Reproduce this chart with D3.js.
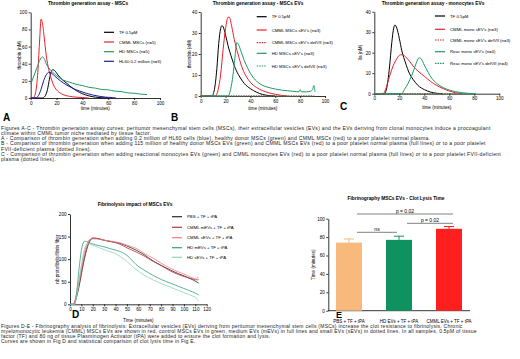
<!DOCTYPE html>
<html>
<head>
<meta charset="utf-8">
<script src="https://cdn.jsdelivr.net/npm/d3@7"></script>
<style>
  body { margin: 0; background: #fff; }
  svg { display: block; font-family: "Liberation Sans", Arial, sans-serif; }
</style>
</head>
<body>
<svg id="fig" width="520" height="359"></svg>
<script>
// ---- Panel A : thrombin generation, MSCs ([time, nM])
const aTF    = [[0,0],[9,0],[11,2],[13,10],[14.5,22],[16,31],[17,33],[18.5,32],[21,27],[24,22],[28,17],[32,12],[36,8],[40,5],[45,2.5],[50,1],[55,0.3],[60,0]];
const aCMML  = [[0,0],[2,0],[4,8],[5.5,30],[7,70],[8,92],[9,88],[10.5,70],[12,50],[14,33],[16,22],[18,14],[21,8],[25,4],[30,2],[35,1],[40,0.5],[45,0]];
const aHD    = [[0,16],[1.5,22],[3,28],[5,36],[7,44],[9,48],[10.5,46],[12,40],[14,35],[17,30],[20,26],[25,21],[30,18.5],[35,16],[40,14.5],[45,12.5],[50,11.5],[55,10],[60,9.5],[65,8],[70,7.5],[75,6],[80,5.5],[85,4.5],[90,4]];
const aHL60  = [[0,0],[4,0],[6,3],[8,10],[10,20],[12,27],[14,30],[16,29],[19,25],[23,20],[28,15],[33,11],[38,8],[43,5.5],[48,3.5],[53,2],[58,1],[63,0.5],[66,0]];
const aNames = ["TF 0.5pM", "CMML MSCs (n=5)", "HD MSCs (n=5)", "HL60 0.2 million (n=3)"];

// ---- Panel B : thrombin generation, MSCs EVs
const bTF      = [[0,0],[9,0],[11,3],[13,13],[14.5,25],[16,32],[17,33.5],[18,33],[20,29],[22,24],[25,18],[28,13],[31,9.5],[35,6],[40,3.5],[45,1.8],[50,0.7],[55,0.2],[60,0]];
const bCMML    = [[0,0],[12,0],[14,3],[16,10],[18,22],[20,32],[22,37.5],[23,37.5],[25,33],[27,27],[30,20],[33,14],[36,10],[40,6.5],[45,4],[50,2.5],[55,1.5],[60,0.8],[65,0.3],[70,0]];
const bCMMLdef = [[0,0],[90,0]];
const bHD      = [[0,0],[22,0],[24,3],[26,10],[27.5,18],[29,25.5],[30,25],[32,22],[35,17],[38,13],[42,9],[46,6.5],[50,5],[55,4],[60,3.3],[65,2.8],[70,2.5],[75,2.2],[79,2],[80,3],[81,2],[85,2],[88,2.2],[90,3],[91,5],[92,2]];
const bHDdef   = [[0,0],[92,0]];
const bNames   = ["TF 0.5pM", "CMML MSCs sEV's (n=3)", "CMML MSCs sEV's defVII (n=3)", "HD MSCs sEV's (n=3)", "HD MSCs sEV's defVII (n=3)"];

// ---- Panel C : thrombin generation, monocytes EVs
const cTF      = [[0,0],[8,0],[10,3],[12,12],[14,25],[15.5,32],[16.5,33.5],[18,32],[20,27],[22,21],[25,15],[28,10],[31,7],[35,4],[40,2],[45,0.8],[50,0.2],[55,0]];
const cCMML    = [[0,0],[7,0],[9,2],[11,6],[13,10],[15,13.5],[17,16],[19,18],[21,19],[23,19],[25,18],[28,16],[31,13.5],[35,11],[40,8.5],[45,6],[50,4],[55,2.5],[60,1.3],[65,0.5],[70,0]];
const cCMMLdef = [[0,0],[75,0]];
const cReac    = [[0,0],[22,0],[24,2],[27,5],[30,9],[33,14],[35,17],[36,17.5],[37.5,17],[40,14],[43,10.5],[46,7.5],[50,5],[55,3],[60,1.8],[65,1],[70,0.5],[75,0.2],[80,0]];
const cReacdef = [[0,0],[82,0]];
const cNames   = ["TF 0.5pM", "CMML mono sEV's (n=3)", "CMML mono sEV's defVII (n=3)", "Reac mono sEV's (n=4)", "Reac mono sEV's defVII (n=4)"];

// ---- Panel D : fibrinolysis
const dPBS    = [[0,0],[3,0],[5,10],[8,40],[11,80],[14,115],[17,138],[20,146],[23,146],[28,143],[35,139],[44,135],[50,129],[58,120],[65,110],[73,96],[80,86],[88,76],[95,68],[102,61],[108,54],[113,47]];
const dCMMLm  = [[0,0],[3,0],[5,12],[8,45],[11,85],[14,120],[17,140],[20,147],[24,146],[30,142],[38,138],[44,133],[50,125],[58,116],[65,107],[73,95],[80,86],[88,74],[95,66],[102,60],[108,56],[112,54],[113,55]];
const dCMMLs  = [[0,0],[3,0],[5,15],[8,55],[11,95],[14,128],[17,143],[19,145],[23,145],[30,142],[38,139],[44,136],[50,131],[58,124],[65,113],[73,102],[80,91],[88,80],[95,72],[102,65],[108,58],[111,56],[112,60],[113,58]];
const dHDm    = [[0,0],[4,0],[6,30],[8,80],[10,120],[12,138],[13,140],[16,137],[22,132],[29,128],[37,122],[44,117],[48,112],[52,104],[58,88],[65,76],[73,64],[80,55],[88,47],[95,40],[102,33],[108,27],[112,22],[113,20]];
const dHDs    = [[0,0],[4,0],[6,20],[9,70],[12,115],[14,130],[16,134],[20,131],[25,126],[32,119],[40,112],[44,106],[48,99],[53,88],[58,77],[65,65],[73,54],[80,46],[88,38],[95,31],[102,24],[108,18],[111,14],[112,10],[113,8]];
const dNames  = ["PBS + TF + tPA", "CMML mEVs + TF + tPA", "CMML sEVs + TF + tPA", "HD mEVs + TF + tPA", "HD sEVs + TF + tPA"];

// ---- Panel E : clot lysis time
const eCats  = ["PBS + TF + tPA", "HD EVs + TF + tPA", "CMML EVs + TF + tPA"];
const eMeans = [74, 77, 89];
const eErr   = [4, 4, 2.5];

// ---- captions
const capABC = [
  "Figures A-C - Thrombin generation assay curves: peritumor mesenchymal stem cells (MSCs), their extracellular vesicles (EVs) and the EVs deriving from clonal monocytes induce a procoagulant",
  "climate within CMML tumor niche mediated by tissue factor.",
  "A - Comparison of thrombin generation when adding 0.2 million of HL60 cells (blue), healthy donor MSCs (green) and CMML MSCs (red) to a poor platelet normal plasma.",
  "B - Comparison of thrombin generation when adding 115 million of healthy donor MSCs EVs (green) and CMML MSCs EVs (red) to a poor platelet normal plasma (full lines) or to a poor platelet",
  "FVII-deficient plasma (dotted lines).",
  "C - Comparison of thrombin generation when adding reactional monocytes EVs (green) and CMML monocytes EVs (red) to a poor platelet normal plasma (full lines) or to a poor platelet FVII-deficient",
  "plasma (dotted lines)."
];
const capDE = [
  "Figures D-E - Fibrinography analysis of fibrinolysis: Extracellular vesicles (EVs) deriving from peritumor mesenchymal stem cells (MSCs) increase the clot resistance to fibrinolysis. Chronic",
  "myelomonocytic leukemia (CMML) MSCs EVs are shown in red, control MSCs EVs in green, medium EVs (mEVs) in full lines and small EVs (sEVs) in dotted lines. In all samples, 0.5pM of tissue",
  "factor (TF) and 80 ng of tissue Plasminogen Activator (tPA) were added to ensure the clot formation and lysis.",
  "Curves are shown in Fig D and statistical comparison of clot lysis time in Fig E."
];

const svg = d3.select("#fig");

function axisStyle(g) {
  g.selectAll("path, line").attr("stroke", "#000").attr("stroke-width", 0.8);
  g.selectAll("text").attr("font-size", "4.6px").attr("fill", "#000");
}

// generic line panel
function linePanel(cfg) {
  const x = d3.scaleLinear().domain(cfg.xDomain).range(cfg.xRange);
  const y = d3.scaleLinear().domain(cfg.yDomain).range(cfg.yRange);
  const g = svg.append("g");

  g.append("g")
    .attr("transform", `translate(0,${cfg.yRange[0]})`)
    .call(d3.axisBottom(x).tickValues(cfg.xTicks).tickSize(2).tickPadding(1.5).tickSizeOuter(0))
    .call(axisStyle);
  g.append("g")
    .attr("transform", `translate(${cfg.xRange[0]},0)`)
    .call(d3.axisLeft(y).tickValues(cfg.yTicks).tickSize(2).tickPadding(1.5).tickSizeOuter(0))
    .call(axisStyle);

  const line = d3.line().x(d => x(d[0])).y(d => y(d[1])).curve(d3.curveMonotoneX);
  cfg.series.forEach(s => {
    g.append("path")
      .attr("d", line(s.data))
      .attr("fill", "none")
      .attr("stroke", s.color)
      .attr("stroke-width", s.width || 1)
      .attr("stroke-dasharray", s.dash || null);
  });

  // title and axis labels
  g.append("text").attr("x", cfg.titleX).attr("y", cfg.titleY)
    .attr("text-anchor", "middle").attr("font-size", "4.8px").attr("font-weight", "bold")
    .text(cfg.title);
  g.append("text").attr("x", (cfg.xRange[0] + cfg.xRange[1]) / 2).attr("y", cfg.xLabelY)
    .attr("text-anchor", "middle").attr("font-size", "4.6px").text(cfg.xLabel);
  g.append("text")
    .attr("transform", `translate(${cfg.yLabelX},${(cfg.yRange[0] + cfg.yRange[1]) / 2}) rotate(-90)`)
    .attr("text-anchor", "middle").attr("font-size", "4.6px").text(cfg.yLabel);

  // legend
  cfg.series.forEach((s, i) => {
    const ly = cfg.legY[i];
    g.append("line").attr("x1", cfg.legX).attr("x2", cfg.legX + 10).attr("y1", ly).attr("y2", ly)
      .attr("stroke", s.color).attr("stroke-width", 1.2).attr("stroke-dasharray", s.dash || null);
    g.append("text").attr("x", cfg.legX + 15).attr("y", ly + 1.5)
      .attr("font-size", "4.3px").text(cfg.names[i]);
  });

  // panel letter
  g.append("text").attr("x", cfg.letterX).attr("y", cfg.letterY)
    .attr("font-size", "10px").attr("font-weight", "bold").text(cfg.letter);
}

const RED = "#e8202a", GREEN = "#1f9a66", BLACK = "#000";

linePanel({
  xDomain: [0, 100], xRange: [30.7, 160], yDomain: [0, 100], yRange: [98, 12.3],
  xTicks: [0, 20, 40, 60, 80, 100], yTicks: [0, 20, 40, 60, 80, 100],
  title: "Thrombin generation assay - MSCs", titleX: 88, titleY: 5,
  xLabel: "time (minutes)", xLabelY: 110, yLabel: "thrombin (nM)", yLabelX: 21,
  series: [
    { data: aTF, color: BLACK },
    { data: aCMML, color: RED },
    { data: aHD, color: GREEN },
    { data: aHL60, color: "#1a1a9c" }
  ],
  names: aNames, legX: 104, legY: [32.3, 42, 51.7, 61.3],
  letter: "A", letterX: 3, letterY: 121
});

linePanel({
  xDomain: [0, 100], xRange: [200.7, 325], yDomain: [0, 40], yRange: [96, 12],
  xTicks: [0, 20, 40, 60, 80, 100], yTicks: [0, 10, 20, 30, 40],
  title: "Thrombin generation assay - MSCs EVs", titleX: 258, titleY: 5,
  xLabel: "time (minutes)", xLabelY: 110, yLabel: "thrombin (nM)", yLabelX: 191,
  series: [
    { data: bTF, color: BLACK },
    { data: bCMML, color: RED },
    { data: bCMMLdef, color: RED, dash: "1.5,1" },
    { data: bHD, color: GREEN },
    { data: bHDdef, color: GREEN, dash: "1.5,1" }
  ],
  names: bNames, legX: 256.7, legY: [16.7, 30, 42.7, 53.3, 66],
  letter: "B", letterX: 171, letterY: 121
});

linePanel({
  xDomain: [0, 100], xRange: [374.3, 499.3], yDomain: [0, 40], yRange: [93.7, 11.7],
  xTicks: [0, 20, 40, 60, 80, 100], yTicks: [0, 10, 20, 30, 40],
  title: "Thrombin generation assay - monocytes EVs", titleX: 433, titleY: 5,
  xLabel: "time (minutes)", xLabelY: 109, yLabel: "IIa (nM)", yLabelX: 362,
  series: [
    { data: cTF, color: BLACK },
    { data: cCMML, color: RED },
    { data: cCMMLdef, color: RED, dash: "1.5,1" },
    { data: cReac, color: GREEN },
    { data: cReacdef, color: GREEN, dash: "1.5,1" }
  ],
  names: cNames, legX: 435, legY: [16, 29.3, 40, 51.7, 63.3],
  letter: "C", letterX: 340, letterY: 110
});

linePanel({
  xDomain: [0, 120], xRange: [70, 206.7], yDomain: [0, 200], yRange: [304.3, 214],
  xTicks: d3.range(0, 121, 10), yTicks: [0, 50, 100, 150, 200],
  title: "Fibrinolysis impact of MSCs EVs", titleX: 135, titleY: 206,
  xLabel: "Time (minutes)", xLabelY: 322, yLabel: "nb protofibrils/fibrin fiber", yLabelX: 59,
  series: [
    { data: dPBS, color: "#2a2a2a", width: 0.8 },
    { data: dCMMLm, color: "#b8343c", width: 0.8 },
    { data: dCMMLs, color: "#ec7f82", width: 0.8 },
    { data: dHDm, color: "#35a07e", width: 0.8 },
    { data: dHDs, color: "#90d2b6", width: 0.8 }
  ],
  names: dNames, legX: 172, legY: [216.7, 227.3, 237.7, 247.7, 257.3],
  letter: "D", letterX: 72, letterY: 318
});

// ---- Panel E : bar chart
(function () {
  const g = svg.append("g");
  const x = d3.scaleBand().domain(eCats).range([324, 474]).paddingInner(0.48).paddingOuter(0.24);
  const y = d3.scaleLinear().domain([0, 100]).range([310.7, 218.7]);
  const colors = ["#f7b97c", "#0f9160", "#ff1f1f"];

  g.append("g").attr("transform", "translate(328.3,0)")
    .call(d3.axisLeft(y).tickValues([0, 20, 40, 60, 80, 100]).tickSize(2).tickPadding(1.5).tickSizeOuter(0))
    .call(axisStyle);
  g.append("line").attr("x1", 328.3).attr("x2", 470).attr("y1", y(0)).attr("y2", y(0))
    .attr("stroke", "#000").attr("stroke-width", 0.8);

  eCats.forEach((c, i) => {
    const cx = x(c) + x.bandwidth() / 2;
    g.append("line").attr("x1", cx).attr("x2", cx).attr("y1", y(eMeans[i])).attr("y2", y(eMeans[i] + eErr[i]))
      .attr("stroke", colors[i]).attr("stroke-width", 1);
    g.append("line").attr("x1", cx - 5).attr("x2", cx + 5).attr("y1", y(eMeans[i] + eErr[i])).attr("y2", y(eMeans[i] + eErr[i]))
      .attr("stroke", colors[i]).attr("stroke-width", 1);
    g.append("rect").attr("x", x(c)).attr("y", y(eMeans[i])).attr("width", x.bandwidth())
      .attr("height", y(0) - y(eMeans[i])).attr("fill", colors[i]);
    g.append("text").attr("x", cx).attr("y", 322.5).attr("text-anchor", "middle")
      .attr("font-size", "4.5px").text(c);
  });

  // significance brackets
  const brackets = [
    { a: 0, b: 2, yy: 214, label: "p = 0.02" },
    { a: 1, b: 2, yy: 223.3, label: "p = 0.02" },
    { a: 0, b: 1, yy: 232.3, label: "ns" }
  ];
  brackets.forEach(br => {
    const x1 = x(eCats[br.a]) + x.bandwidth() / 2 + 8;
    const x2 = x(eCats[br.b]) + x.bandwidth() / 2 + (br.b === 2 ? 4 : -2);
    g.append("line").attr("x1", x1).attr("x2", x2).attr("y1", br.yy).attr("y2", br.yy)
      .attr("stroke", "#000").attr("stroke-width", 0.5);
    g.append("text").attr("x", (x1 + x2) / 2).attr("y", br.yy - 1.5).attr("text-anchor", "middle")
      .attr("font-size", "5px").text(br.label);
  });

  g.append("text").attr("x", 396).attr("y", 199.5).attr("text-anchor", "middle")
    .attr("font-size", "4.8px").attr("font-weight", "bold").text("Fibrinography MSCs EVs - Clot Lysis Time");
  g.append("text").attr("transform", "translate(315,264.7) rotate(-90)").attr("text-anchor", "middle")
    .attr("font-size", "4.6px").text("Time (minutes)");
  g.append("text").attr("x", 336).attr("y", 318).attr("font-size", "9px").attr("font-weight", "bold").text("E");
})();

// ---- captions
svg.append("g").selectAll("text").data(capABC).join("text")
  .attr("x", 1).attr("y", (d, i) => 129.5 + i * 5.25)
  .attr("font-size", "5.1px").attr("letter-spacing", "0.28px").attr("fill", "#222").text(d => d);
svg.append("g").selectAll("text").data(capDE).join("text")
  .attr("x", 1).attr("y", (d, i) => 328 + i * 5)
  .attr("font-size", "5px").attr("letter-spacing", "0.25px").attr("fill", "#222").text(d => d);
</script>
</body>
</html>
